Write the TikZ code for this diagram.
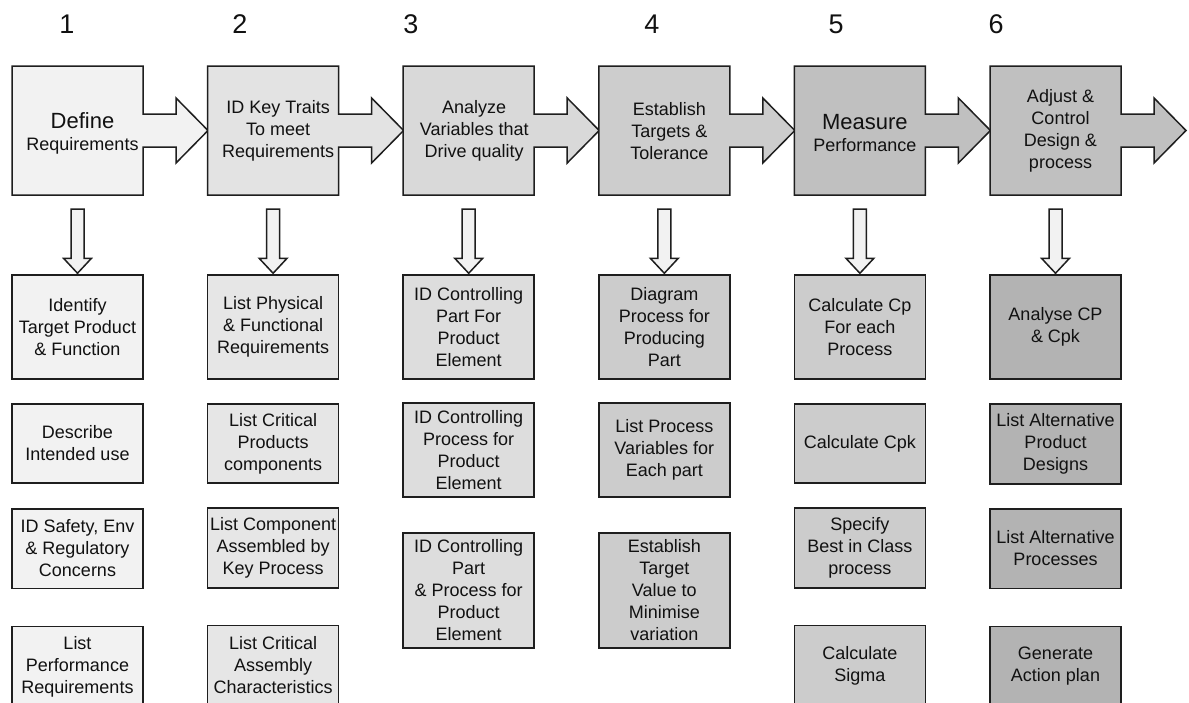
\documentclass[tikz,border=0pt]{standalone}
\usepackage{fontspec}
\setmainfont{Liberation Sans}
\usetikzlibrary{calc}

% stage colours (top arrows) and task colours (boxes below)
\definecolor{edge}{HTML}{1E1E1E}
\definecolor{ink}{HTML}{111111}
\definecolor{stA}{HTML}{F2F2F2}
\definecolor{stB}{HTML}{E3E3E3}
\definecolor{stC}{HTML}{D9D9D9}
\definecolor{stD}{HTML}{CDCDCD}
\definecolor{stE}{HTML}{C0C0C0}
\definecolor{stF}{HTML}{C0C0C0}
\definecolor{tkA}{HTML}{F2F2F2}
\definecolor{tkB}{HTML}{E6E6E6}
\definecolor{tkC}{HTML}{DDDDDD}
\definecolor{tkD}{HTML}{CCCCCC}
\definecolor{tkE}{HTML}{CCCCCC}
\definecolor{tkF}{HTML}{B3B3B3}
\definecolor{downfill}{HTML}{F2F2F2}

\begin{document}
\begin{tikzpicture}[x=1pt,y=-1pt,
  stageshape/.style={draw=edge, line width=1.5pt, line join=miter},
  stagetext/.style={inner sep=0pt, align=center, text=ink,
    font=\fontsize{18}{22}\selectfont},
  item/.style={draw=edge, line width=1.5pt, minimum width=131pt, inner sep=0pt,
    align=center, text=ink, font=\fontsize{18}{22}\selectfont},
  downarrow/.style={draw=edge, line width=1.5pt, line join=miter, fill=downfill},
  num/.style={inner sep=0pt, text=ink, font=\fontsize{27}{27}\selectfont}]

\useasboundingbox (0,0) rectangle (1189,702);
\clip (0,0) rectangle (1189,702);
\fill[white] (0,0) rectangle (1189,702);

% column numbers
\node[num] (n1) at (67,24) {1};
\node[num] (n2) at (240,24) {2};
\node[num] (n3) at (411,24) {3};
\node[num] (n4) at (652,24) {4};
\node[num] (n5) at (836,24) {5};
\node[num] (n6) at (996,24) {6};

% stage boxes, each joined to its right-pointing block arrow
\foreach \i/\col in {1/stA,2/stB,3/stC,4/stD,5/stE,6/stF} {
  \pgfmathsetmacro\L{12+195.6*(\i-1)}
  \pgfmathsetmacro\R{\L+131}
  \draw[stageshape, fill=\col]
    (\L,66) -- (\R,66) -- (\R,114) -- (\R+33,114) -- (\R+33,98)
    -- (\R+65,130.5) -- (\R+33,163) -- (\R+33,147) -- (\R,147)
    -- (\R,195) -- (\L,195) -- cycle;
  \coordinate (b\i) at (\L+65.5,195);
}

% stage titles
\node[stagetext] (t1) at (82.5,133) {{\fontsize{22}{22}\selectfont Define}\\Requirements};
\node[stagetext] (t2) at (278.1,131) {ID Key Traits\\To  meet\\Requirements};
\node[stagetext] (t3) at (474.2,131) {Analyze\\Variables that\\Drive quality};
\node[stagetext] (t4) at (669.3,131) {Establish\\Targets \&\\Tolerance};
\node[stagetext] (t5) at (864.9,133) {{\fontsize{22}{22}\selectfont Measure}\\Performance};
\node[stagetext] (t6) at (1060.5,131) {Adjust \&\\Control\\Design \&\\process};

% column 1
\node[item, fill=tkA, minimum height=104pt] (s11) at (77.5,327) {Identify\\Target Product\\\& Function};
\node[item, fill=tkA, minimum height=79pt] (s12) at (77.5,443.5) {Describe\\Intended use};
\node[item, fill=tkA, minimum height=79.5pt] (s13) at (77.5,548.5) {ID Safety, Env\\\& Regulatory\\Concerns};
\node[item, fill=tkA, minimum height=80pt] (s14) at (77.5,666.5) {List\\Performance\\Requirements};

% column 2
\node[item, fill=tkB, minimum height=104pt] (s21) at (273.1,327) {List Physical\\\& Functional\\Requirements};
\node[item, fill=tkB, minimum height=79pt] (s22) at (273.1,443.5) {List Critical\\Products\\components};
\node[item, fill=tkB, minimum height=80pt] (s23) at (273.1,548) {List Component\\Assembled by\\Key Process};
\node[item, fill=tkB, minimum height=80pt] (s24) at (273.1,665.5) {List Critical\\Assembly\\Characteristics};

% column 3
\node[item, fill=tkC, minimum height=104pt] (s31) at (468.7,327) {ID Controlling\\Part For\\Product\\Element};
\node[item, fill=tkC, minimum height=94pt] (s32) at (468.7,450) {ID Controlling\\Process for\\Product\\Element};
\node[item, fill=tkC, minimum height=115pt] (s33) at (468.7,590.5) {ID Controlling\\Part\\\& Process for\\Product\\Element};

% column 4
\node[item, fill=tkD, minimum height=104pt] (s41) at (664.3,327) {Diagram\\Process for\\Producing\\Part};
\node[item, fill=tkD, minimum height=94pt] (s42) at (664.3,450) {List Process\\Variables for\\Each part};
\node[item, fill=tkD, minimum height=115pt] (s43) at (664.3,590.5) {Establish\\Target\\Value to\\Minimise\\variation};

% column 5
\node[item, fill=tkE, minimum height=104pt] (s51) at (859.9,327) {Calculate Cp\\For each\\Process};
\node[item, fill=tkE, minimum height=79pt] (s52) at (859.9,443.5) {Calculate Cpk};
\node[item, fill=tkE, minimum height=80pt] (s53) at (859.9,548) {Specify\\Best in Class\\process};
\node[item, fill=tkE, minimum height=80pt] (s54) at (859.9,665.5) {Calculate\\Sigma};

% column 6
\node[item, fill=tkF, minimum height=104pt] (s61) at (1055.5,327) {Analyse CP\\\& Cpk};
\node[item, fill=tkF, minimum height=80pt] (s62) at (1055.5,444) {List Alternative\\Product\\Designs};
\node[item, fill=tkF, minimum height=79.5pt] (s63) at (1055.5,548.5) {List Alternative\\Processes};
\node[item, fill=tkF, minimum height=80pt] (s64) at (1055.5,666.5) {Generate\\Action plan};

% block arrows from each stage down to its first task
\foreach \i in {1,...,6} {
  \draw[downarrow] let \p1=($(b\i)+(0,14)$), \p2=(s\i1.north) in
    (\x1-6.5pt,\y1) -- (\x1+6.5pt,\y1) -- (\x1+6.5pt,\y2+16pt)
    -- (\x1+14pt,\y2+16pt) -- (\x2,\y2+1pt) -- (\x1-14pt,\y2+16pt)
    -- (\x1-6.5pt,\y2+16pt) -- cycle;
}

\end{tikzpicture}
\end{document}
